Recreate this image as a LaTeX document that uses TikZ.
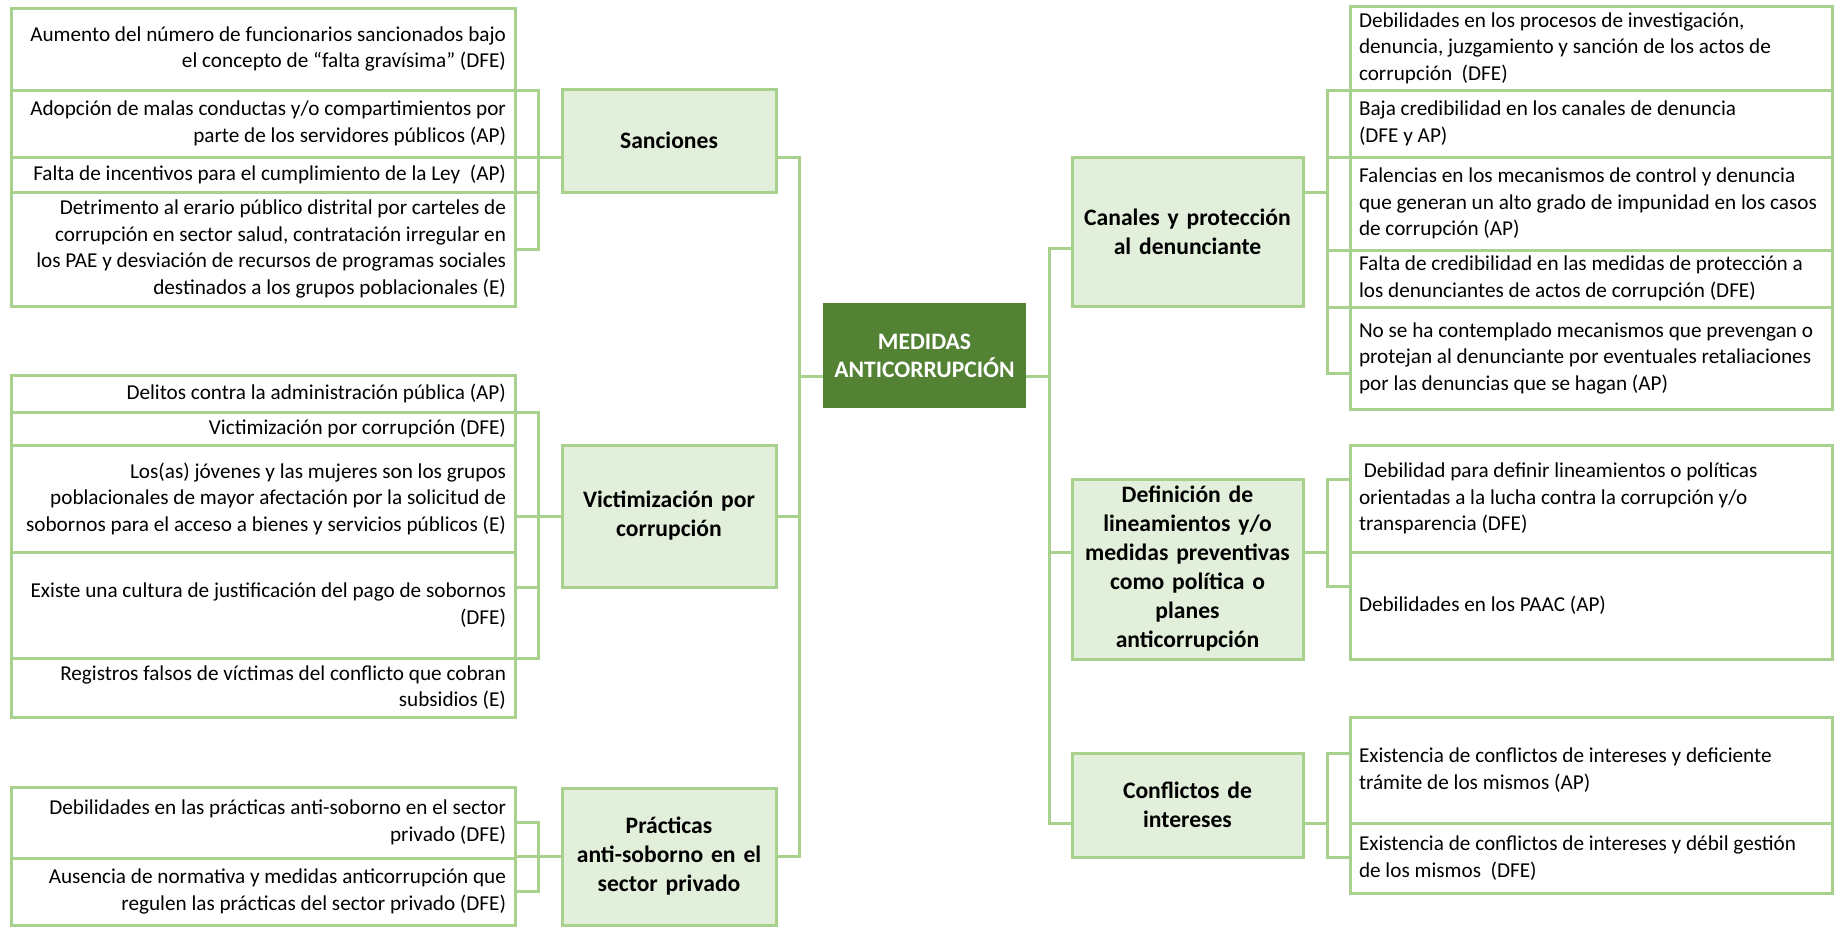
\documentclass[tikz,border=0pt]{standalone}
\usepackage{fontspec}
\setmainfont{Carlito}
\usepackage{tikz}
\usetikzlibrary{positioning, calc}

\definecolor{lineGreen}{HTML}{A9D18E}
\definecolor{paleGreen}{HTML}{E2EFDA}
\definecolor{darkGreen}{HTML}{548235}

\begin{document}
\begin{tikzpicture}[x=0.5pt, y=-0.5pt,
    every node/.style={outer sep=0pt},
    leafL/.style={draw=lineGreen, line width=1.5pt, fill=white, minimum width=252pt, text width=243pt, inner xsep=4.5pt, inner ysep=1pt, align=flush right, font=\fontsize{10.6}{13.25}\selectfont},
    leafR/.style={draw=lineGreen, line width=1.5pt, fill=white, minimum width=241pt, text width=232pt, inner xsep=4.5pt, inner ysep=1pt, align=flush left, font=\fontsize{10.6}{13.25}\selectfont},
    catL/.style={draw=lineGreen, line width=1.5pt, fill=paleGreen, anchor=north west, minimum width=107pt, text width=103pt, inner xsep=2pt, inner ysep=1pt, align=center, font=\fontsize{11.8}{14.5}\selectfont\bfseries},
    catR/.style={catL, minimum width=115.5pt, text width=111pt},
    rootbox/.style={fill=darkGreen, text=white, anchor=north west, minimum width=101.5pt, minimum height=52.5pt, text width=97pt, inner xsep=2pt, align=center, font=\fontsize{11.8}{14}\selectfont\bfseries},
    link/.style={draw=lineGreen, line width=1.5pt}]
    \useasboundingbox (0,0) rectangle (1837,927);

    % columnas de los conectores
    \coordinate (lbx) at (538,0);
    \coordinate (lsp) at (799,0);
    \coordinate (rsp) at (1049,0);
    \coordinate (rbx) at (1327,0);

    % nodo central
    \node[rootbox] (root) at (823,303) {MEDIDAS\\ANTICORRUPCIÓN};

    % categorías
    \node[catL, minimum height=51.5pt] (sanc) at (562,89) {Sanciones};
    \node[catL, minimum height=71pt] (vcat) at (562,445) {Victimización por\\corrupción};
    \node[catL, minimum height=68.5pt] (pcat) at (562,788) {Prácticas\\anti-soborno en el\\sector privado};
    \node[catR, minimum height=74.5pt] (ccat) at (1072,157) {Canales y protección\\al denunciante};
    \node[catR, minimum height=90pt] (dcat) at (1072,479) {Definición de\\lineamientos y/o\\medidas preventivas\\como política o\\planes\\anticorrupción};
    \node[catR, minimum height=52pt] (kcat) at (1072,753) {Conflictos de\\intereses};

    % hojas: Sanciones
    \node[leafL, anchor=north west, minimum height=41pt] (sa1) at (11,8) {Aumento del número de funcionarios sancionados bajo\\el concepto de “falta gravísima” (DFE)};
    \node[leafL, minimum height=33.5pt] (sa2) [below=0pt of sa1] {Adopción de malas conductas y/o compartimientos por\\parte de los servidores públicos (AP)};
    \node[leafL, minimum height=17.5pt] (sa3) [below=0pt of sa2] {Falta de incentivos para el cumplimiento de la Ley~ (AP)};
    \node[leafL, minimum height=57pt] (sa4) [below=0pt of sa3] {Detrimento al erario público distrital por carteles de\\corrupción en sector salud, contratación irregular en\\los PAE y desviación de recursos de programas sociales\\destinados a los grupos poblacionales (E)};

    % hojas: Victimización
    \node[leafL, anchor=north west, minimum height=18.5pt] (va1) at (11,375) {Delitos contra la administración pública (AP)};
    \node[leafL, minimum height=16.5pt] (va2) [below=0pt of va1] {Victimización por corrupción (DFE)};
    \node[leafL, minimum height=53.5pt] (va3) [below=0pt of va2] {Los(as) jóvenes y las mujeres son los grupos\\poblacionales de mayor afectación por la solicitud de\\sobornos para el acceso a bienes y servicios públicos (E)};
    \node[leafL, minimum height=53pt] (va4) [below=0pt of va3] {Existe una cultura de justificación del pago de sobornos\\(DFE)};
    \node[leafL, minimum height=29.5pt] (va5) [below=0pt of va4] {Registros falsos de víctimas del conflicto que cobran\\subsidios (E)};

    % hojas: Prácticas
    \node[leafL, anchor=north west, minimum height=35.5pt] (pa1) at (11,787) {Debilidades en las prácticas anti-soborno en el sector\\privado (DFE)};
    \node[leafL, minimum height=33.5pt] (pa2) [below=0pt of pa1] {Ausencia de normativa y medidas anticorrupción que\\regulen las prácticas del sector privado (DFE)};

    % hojas: Canales
    \node[leafR, anchor=north west, minimum height=42pt] (cr1) at (1350,6) {Debilidades en los procesos de investigación,\\denuncia, juzgamiento y sanción de los actos de\\corrupción~ (DFE)};
    \node[leafR, minimum height=33.5pt] (cr2) [below=0pt of cr1] {Baja credibilidad en los canales de denuncia\\(DFE y AP)};
    \node[leafR, minimum height=46.5pt] (cr3) [below=0pt of cr2] {Falencias en los mecanismos de control y denuncia\\que generan un alto grado de impunidad en los casos\\de corrupción (AP)};
    \node[leafR, minimum height=28.5pt] (cr4) [below=0pt of cr3] {Falta de credibilidad en las medidas de protección a\\los denunciantes de actos de corrupción (DFE)};
    \node[leafR, minimum height=51pt] (cr5) [below=0pt of cr4] {No se ha contemplado mecanismos que prevengan o\\protejan al denunciante por eventuales retaliaciones\\por las denuncias que se hagan (AP)};

    % hojas: Definición
    \node[leafR, anchor=north west, minimum height=53.5pt] (dr1) at (1350,445) {\ Debilidad para definir lineamientos o políticas\\orientadas a la lucha contra la corrupción y/o\\transparencia (DFE)};
    \node[leafR, minimum height=53.5pt] (dr2) [below=0pt of dr1] {Debilidades en los PAAC (AP)};

    % hojas: Conflictos
    \node[leafR, anchor=north west, minimum height=53pt] (kr1) at (1350,717) {Existencia de conflictos de intereses y deficiente\\trámite de los mismos (AP)};
    \node[leafR, minimum height=35pt] (kr2) [below=0pt of kr1] {Existencia de conflictos de intereses y débil gestión\\de los mismos~ (DFE)};

    % corchetes de la izquierda
    \draw[link] (sa1.south east) -| (sa4.east -| lbx) -- (sa4.east);
    \draw[link] (sa3.south east) -- (sa3.south east -| lbx);
    \draw[link] (sa2.south east) -- (sa2.south east -| sanc.west);
    \draw[link] (va1.south east) -| (va4.south east -| lbx) -- (va4.south east);
    \draw[link] (vcat.south -| va4.east) -- (vcat.south -| lbx);
    \draw[link] (vcat.west -| va3.east) -- (vcat.west);
    \draw[link] (pa1.east) -| (pa2.east -| lbx) -- (pa2.east);
    \draw[link] (pcat.west -| pa1.east) -- (pcat.west);

    % eje izquierdo y nodo central
    \coordinate (rootlink) at ($(root.south)+(0,-32)$);
    \draw[link] (sa2.south east -| sanc.east) -| (pcat.east -| lsp) -- (pcat.east);
    \draw[link] (vcat.east) -- (vcat.east -| lsp);
    \draw[link] (rootlink -| lsp) -- (rootlink -| root.west);
    \draw[link] (rootlink -| root.east) -- (rootlink -| rsp);

    % eje derecho
    \coordinate (clink) at ($(ccat.west)+(0,17)$);
    \draw[link] (clink) -| (kr1.south -| rsp) -- (kr1.south -| kcat.west);
    \draw[link] (dr1.south -| rsp) -- (dr1.south -| dcat.west);

    % corchetes de la derecha
    \coordinate (cout) at ($(ccat.east)+(0,-39)$);
    \coordinate (cbot) at ($(cr5.south west)+(0,-36)$);
    \draw[link] (cout) -- (cout -| rbx);
    \draw[link] (cr1.south west) -| (cbot -| rbx) -- (cbot);
    \foreach \n in {cr2,cr3,cr4}
        \draw[link] (\n.south west) -- (\n.south west -| rbx);
    \coordinate (dbot) at ($(dr2.west)+(0,-19)$);
    \draw[link] (dr1.south -| dcat.east) -- (dr1.south -| rbx);
    \draw[link] (dcat.north -| dr1.west) -| (dbot -| rbx) -- (dbot -| dr2.west);
    \draw[link] (kr1.south -| kcat.east) -- (kr1.south -| rbx);
    \draw[link] (kcat.north -| kr1.west) -| (kcat.south -| rbx) -- (kcat.south -| kr2.west);
\end{tikzpicture}
\end{document}
